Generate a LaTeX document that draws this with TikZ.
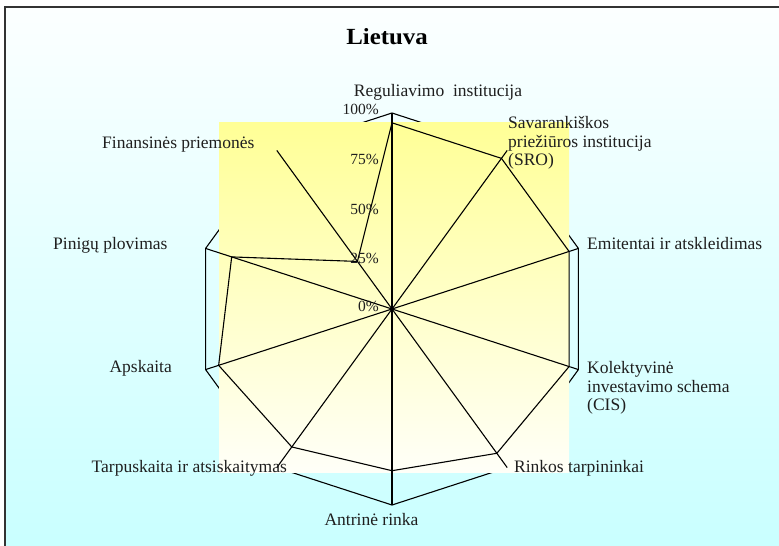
\documentclass[tikz,border=0pt]{standalone}
\usepackage{fontspec}
\setmainfont{Liberation Serif}
\definecolor{bgcyan}{RGB}{200,255,255}
\definecolor{bgtop}{RGB}{252,255,255}
\definecolor{paYellow}{RGB}{255,255,150}
\definecolor{paWhite}{RGB}{255,255,248}
\begin{document}
\begin{tikzpicture}[x=1pt,y=-1pt,
  lbl/.style={font=\fontsize{17.5}{18.3}\selectfont, inner sep=0pt, text=black!88},
  lbl1/.style={lbl, text height=0.72em, text depth=0.24em},
  tick/.style={font=\fontsize{15.5}{16}\selectfont, inner sep=0pt, text=black!88, text height=0.72em, text depth=0.24em},
  gridline/.style={line width=1.1pt, black},
  dataline/.style={line width=1.1pt, black}]
\useasboundingbox (0,0) rectangle (779,546);
\fill[white] (0,0) rectangle (779,546);
% chart area
\shade[top color=bgtop, bottom color=bgcyan] (5,7) rectangle (792,560);
\draw[line width=1.3pt, black!80] (5,570) -- (5,7) -- (792,7);
% title
\node[font=\fontsize{22}{24}\selectfont\bfseries, inner sep=0pt] (title) at (387,37) {\scalebox{1.13}[1.05]{Lietuva}};
% axes coordinates
\coordinate (c) at (392,309);
\foreach \i/\a/\v in {0/90/0.95, 1/54/0.95, 2/18/0.95, 3/-18/0.95, 4/-54/0.91,
                      5/-90/0.825, 6/-126/0.87, 7/-162/0.93, 8/162/0.86, 9/126/0.30} {
  \coordinate (o\i) at ({392+196*cos(\a)},{309-196*sin(\a)});
  \coordinate (d\i) at ({392+196*\v*cos(\a)},{309-196*\v*sin(\a)});
}
% outer grid polygon (100%)
\draw[gridline] (o0) -- (o1) -- (o2) -- (o3) -- (o4) -- (o5) -- (o6) -- (o7) -- (o8) -- (o9) -- cycle;
% plot area
\shade[top color=paYellow, bottom color=paWhite] (219,122) rectangle (569,472);
% spokes
\foreach \i in {0,...,9} \draw[gridline] (c) -- (o\i);
% data polygon
\draw[dataline, line join=miter] (d0) -- (d1) -- (d2) -- (d3) -- (d4) -- (d5) -- (d6) -- (d7) -- (d8) -- (d9) -- cycle;
% tick labels
\node[tick, anchor=east] (t100) at (379,112) {100\%};
\node[tick, anchor=east] (t75) at (379,162) {75\%};
\node[tick, anchor=east] (t50) at (379,212) {50\%};
\node[tick, anchor=east] (t25) at (379,261) {25\%};
\node[tick, anchor=east] (t0) at (379,309) {0\%};
% category labels
\node[lbl1] (reg) at (438,94) {Reguliavimo\ \ institucija};
\node[lbl, anchor=west, align=left] (sro) at (508,143) {Savarankiškos\\priežiūros institucija\\(SRO)};
\node[lbl1, anchor=west] (emit) at (587,247) {Emitentai ir atskleidimas};
\node[lbl, anchor=west, align=left] (cis) at (587,388) {Kolektyvinė\\investavimo schema\\(CIS)};
\node[lbl1, anchor=west] (rink) at (514,470) {Rinkos tarpininkai};
\node[lbl1] (antr) at (371.5,523) {Antrinė rinka};
\node[lbl1, anchor=east] (tarp) at (287,470) {Tarpuskaita ir atsiskaitymas};
\node[lbl1, anchor=east] (apsk) at (172,370) {Apskaita};
\node[lbl1, anchor=west] (pin) at (53,247) {Pinigų plovimas};
\node[lbl1, anchor=west] (fin) at (102,146) {Finansinės priemonės};
\end{tikzpicture}
\end{document}
